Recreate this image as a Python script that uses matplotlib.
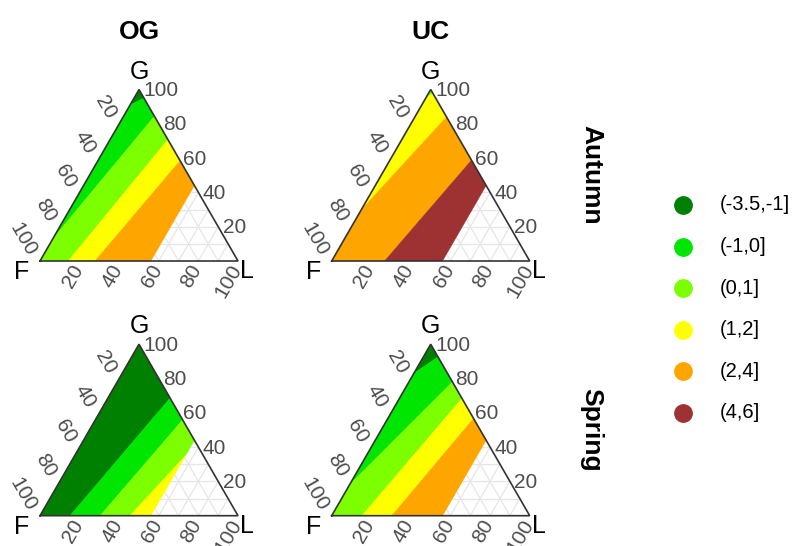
import numpy as np
import matplotlib
matplotlib.use('Agg')
import matplotlib.pyplot as plt

plt.rcParams['font.family'] = ['Liberation Sans', 'DejaVu Sans']

# ---------------- data ----------------
levels = [-3.5, -1, 0, 1, 2, 4, 6]
band_labels = ['(-3.5,-1]', '(-1,0]', '(0,1]', '(1,2]', '(2,4]', '(4,6]']
band_colors = ['#008000', '#00e600', '#7cff00', '#ffff00', '#ffa500', '#9e3232']

sites = ['OG', 'UC']
seasons = ['Autumn', 'Spring']
axis_ticks = [20, 40, 60, 80, 100]
L_max = 56  # upper limit of L (%) covered by the data

# contour boundaries: level -> two (G%, L%) points where the level line meets the triangle edges
og_autumn = {-1: [(91, 0), (95, 5)], 0: [(13, 0), (84.4, 15.6)],
             1: [(0, 14.3), (70.8, 29.2)], 2: [(0, 27.8), (58.5, 41.5)]}
uc_autumn = {1: [(96, 0), (97.5, 2.5)], 2: [(29.7, 0), (84, 16)],
             4: [(0, 26.7), (58.8, 41.2)]}
og_spring = {-1: [(0, 15.2), (68.6, 31.4)], 0: [(0, 30.4), (55.9, 44.1)],
             1: [(0, 45.5), (42, 58)]}
uc_spring = {-1: [(83, 0), (92.6, 7.4)], 0: [(18, 0), (78, 22)],
             1: [(0, 15.3), (68.4, 31.6)], 2: [(0, 30.4), (56.7, 43.3)]}
panels = {('OG', 'Autumn'): og_autumn, ('UC', 'Autumn'): uc_autumn,
          ('OG', 'Spring'): og_spring, ('UC', 'Spring'): uc_spring}

# ---------------- layout (pixels) ----------------
W, H = 800, 546
col_x0 = [40, 331.7]       # F vertex x of each column
row_base = [261, 515.7]    # base line y of each row
side = 198.0
S3 = np.sqrt(3) / 2


def tern(G, L):
    return ((L + G / 2) / 100.0, G * S3 / 100.0)


def clip(poly, p1, p2, sgn):
    def f(p):
        return ((p2[0] - p1[0]) * (p[1] - p1[1]) - (p2[1] - p1[1]) * (p[0] - p1[0])) * sgn
    out = []
    n = len(poly)
    for i in range(n):
        a, b = poly[i], poly[(i + 1) % n]
        fa, fb = f(a), f(b)
        if fa >= 0:
            out.append(a)
        if (fa >= 0) != (fb >= 0):
            t = fa / (fa - fb)
            out.append((a[0] + t * (b[0] - a[0]), a[1] + t * (b[1] - a[1])))
    return out


def pt(px):
    return px * 72.0 / 100.0


fig = plt.figure(figsize=(W / 100, H / 100), dpi=100)

tick_color = '#4d4d4d'
fs_tick = 15
fs_vertex = 18

for ci, site in enumerate(sites):
    for ri, season in enumerate(seasons):
        x0 = col_x0[ci]
        yb = row_base[ri]
        ax = fig.add_axes([x0 / W, (H - yb) / H, side / W, side * S3 / H])
        ax.set_xlim(0, 1)
        ax.set_ylim(0, S3)
        ax.axis('off')

        # grid
        for v in range(10, 100, 10):
            for (g1, l1), (g2, l2) in [((v, 0), (v, 100 - v)),
                                       ((0, v), (100 - v, v)),
                                       ((100 - v, 0), (0, 100 - v))]:
                a, b = tern(g1, l1), tern(g2, l2)
                ax.plot([a[0], b[0]], [a[1], b[1]], color='#e6e6e6', lw=0.9, zorder=1)

        # bands
        bounds = panels[(site, season)]
        region = [tern(0, 0), tern(0, L_max), tern(100 - L_max, L_max), tern(100, 0)]
        Lv = tern(0, 100)
        keys = sorted(bounds)

        def side_sign(p1, p2):
            return np.sign((p2[0] - p1[0]) * (Lv[1] - p1[1]) - (p2[1] - p1[1]) * (Lv[0] - p1[0]))

        segs = [None] + keys + [None]
        for i in range(len(segs) - 1):
            lo, hi = segs[i], segs[i + 1]
            poly = list(region)
            if lo is not None:
                p1, p2 = tern(*bounds[lo][0]), tern(*bounds[lo][1])
                poly = clip(poly, p1, p2, side_sign(p1, p2))
            if hi is not None and len(poly) > 2:
                p1, p2 = tern(*bounds[hi][0]), tern(*bounds[hi][1])
                poly = clip(poly, p1, p2, -side_sign(p1, p2))
            if len(poly) < 3:
                continue
            if hi is not None:
                bi = levels.index(hi) - 1
            else:
                bi = levels.index(lo)
            xs, ys = zip(*poly)
            ax.fill(xs, ys, color=band_colors[bi], lw=0.3, ec=band_colors[bi], zorder=2)

        # outline
        tri = [tern(0, 0), tern(0, 100), tern(100, 0), tern(0, 0)]
        xs, ys = zip(*tri)
        ax.plot(xs, ys, color='#333333', lw=1.2, zorder=5, solid_joinstyle='miter', clip_on=False)

        # tick labels
        for v in axis_ticks:
            ax.annotate(str(v), xy=tern(0, v), xytext=(pt(-1), pt(-5)), textcoords='offset points',
                        rotation=60, ha='right', va='center', rotation_mode='anchor',
                        fontsize=fs_tick, color=tick_color, annotation_clip=False)
            ax.annotate(str(v), xy=tern(100 - v, 0), xytext=(pt(-8), pt(6)), textcoords='offset points',
                        rotation=-60, ha='right', va='center', rotation_mode='anchor',
                        fontsize=fs_tick, color=tick_color, annotation_clip=False)
            ax.annotate(str(v), xy=tern(v, 100 - v), xytext=(pt(4.5), pt(-1)), textcoords='offset points',
                        ha='left', va='center', fontsize=fs_tick, color=tick_color, annotation_clip=False)

        # vertex labels
        ax.annotate('G', xy=tern(100, 0), xytext=(0, pt(18)), textcoords='offset points',
                    ha='center', va='center', fontsize=fs_vertex, annotation_clip=False)
        ax.annotate('F', xy=tern(0, 0), xytext=(pt(-18), pt(-11)), textcoords='offset points',
                    ha='center', va='center', fontsize=fs_vertex, annotation_clip=False)
        ax.annotate('L', xy=tern(0, 100), xytext=(pt(9), pt(-10)), textcoords='offset points',
                    ha='center', va='center', fontsize=fs_vertex, annotation_clip=False)

# facet strip labels
for ci, site in enumerate(sites):
    fig.text((col_x0[ci] + side / 2) / W, 1 - 32 / H, site, ha='center', va='center',
             fontsize=19, fontweight='bold')
for ri, season in enumerate(seasons):
    fig.text(591 / W, (H - (row_base[ri] - side * S3 / 2)) / H, season, ha='center', va='center',
             rotation=-90, fontsize=19, fontweight='bold')

# legend
spacing = 41.6
top = 205 - spacing / 2
lax = fig.add_axes([670 / W, (H - (top + spacing * len(band_labels))) / H, 130 / W,
                    spacing * len(band_labels) / H])
lax.set_xlim(0, 130)
lax.set_ylim(len(band_labels) - 0.5, -0.5)
lax.axis('off')
for i, (lab, col) in enumerate(zip(band_labels, band_colors)):
    lax.plot([13], [i], 'o', ms=12.5, color=col, mec=col)
    lax.text(50, i, lab, ha='left', va='center', fontsize=14.5)

fig.savefig('out.png', dpi=100)
